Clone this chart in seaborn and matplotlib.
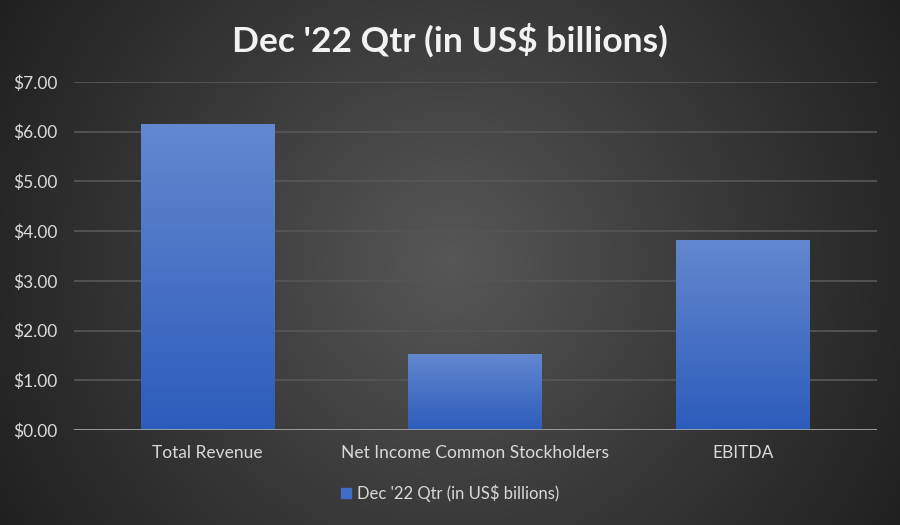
import numpy as np
import pandas as pd
import seaborn as sns
import matplotlib.pyplot as plt
from matplotlib.colors import LinearSegmentedColormap

# Chart data
categories = ["Total Revenue", "Net Income Common Stockholders", "EBITDA"]
values = [6.16, 1.53, 3.82]
series_name = "Dec '22 Qtr (in US$ billions)"
y_ticks = [0, 1, 2, 3, 4, 5, 6, 7]
y_tick_labels = [f"${v:.2f}" for v in y_ticks]

df = pd.DataFrame({"category": categories, "value": values, "series": series_name})

sns.set_style("dark")
plt.rcParams['font.family'] = ['Lato', 'DejaVu Sans']

fig = plt.figure(figsize=(9, 5.25), dpi=100)

# radial background like Excel's dark style
bg = fig.add_axes([0, 0, 1, 1], zorder=-10)
yy, xx = np.mgrid[0:525, 0:900]
r = np.sqrt((xx - 450.0) ** 2 + (yy - 262.0) ** 2) / np.sqrt(450.0 ** 2 + 262.0 ** 2)
bg_cmap = LinearSegmentedColormap.from_list("bg", ["#575757", "#3a3a3a", "#202020"])
bg.imshow(r, cmap=bg_cmap, extent=[0, 1, 0, 1], aspect="auto", vmin=0, vmax=1)
bg.axis("off")

ax = fig.add_axes([0.0822, 0.181, 0.892, 0.663])
ax.patch.set_alpha(0)

sns.barplot(data=df, x="category", y="value", hue="series", ax=ax, width=0.5,
            palette=["#4472c4"], saturation=1, edgecolor="none", legend=False)

# vertical gradient on each bar
bar_cmap = LinearSegmentedColormap.from_list("bar", ["#2c5cbb", "#6388cf"])
grad = np.linspace(0, 1, 256).reshape(-1, 1)
for p in ax.patches:
    x0, y0 = p.get_x(), p.get_y()
    w, h = p.get_width(), p.get_height()
    im = ax.imshow(grad, cmap=bar_cmap, origin="lower", aspect="auto",
                   extent=[x0, x0 + w, y0, y0 + h], zorder=3)
    im.set_clip_path(p)
    p.set_zorder(3)

ax.set_xlim(-0.5, 2.5)
ax.set_ylim(0, 7)
ax.set_yticks(y_ticks)
ax.set_yticklabels(y_tick_labels)
ax.set_xlabel("")
ax.set_ylabel("")
ax.tick_params(axis="both", length=0, colors="#d9d9d9", labelsize=12.5)
ax.tick_params(axis="y", pad=12)
ax.tick_params(axis="x", pad=11)
ax.yaxis.grid(True, color="#555555", linewidth=1.3, zorder=0)
ax.xaxis.grid(False)
ax.set_axisbelow(True)
for s in ax.spines.values():
    s.set_visible(False)
ax.axhline(0, color="#a6a6a6", linewidth=1.2, zorder=4)

fig.text(0.5, 0.924, series_name, ha="center", va="center", fontsize=25.5,
         fontweight="bold", color="#f2f2f2")

handle = plt.Rectangle((0, 0), 1, 1, color="#3f6cc8")
fig.legend([handle], [series_name], loc="center", bbox_to_anchor=(0.5, 0.061),
           frameon=False, fontsize=12, labelcolor="#d9d9d9",
           handlelength=0.6, handleheight=0.6, handletextpad=0.4)

fig.savefig("out.png", dpi=100)
